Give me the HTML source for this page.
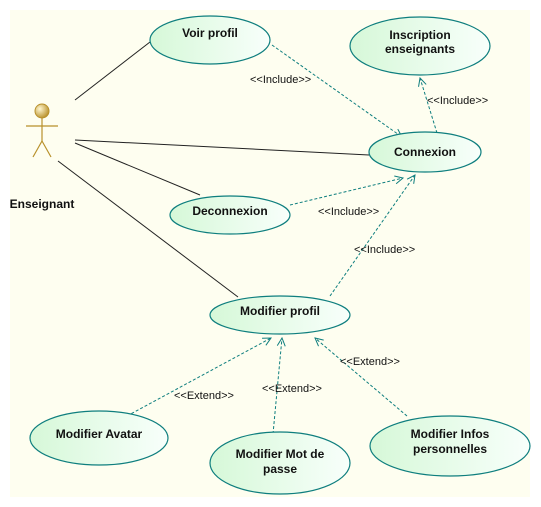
<!DOCTYPE html>
<html><head><style>
body{margin:0;background:#fff}
svg{display:block}
text{font-family:"Liberation Sans",sans-serif}
.t{font-weight:bold;font-size:12px;fill:#111}
.l{font-size:11px;fill:#111}
</style></head><body>
<svg width="541" height="507" viewBox="0 0 541 507">
<defs>
<linearGradient id="g" x1="0" x2="1" y1="0" y2="0">
<stop offset="0" stop-color="#d6f8d8"/><stop offset="1" stop-color="#f8fffb"/>
</linearGradient>
<radialGradient id="h" cx="0.35" cy="0.35" r="0.7"><stop offset="0" stop-color="#fff6cf"/><stop offset="1" stop-color="#b8902a"/></radialGradient>
<marker id="a" markerWidth="10" markerHeight="10" refX="9" refY="5" orient="auto" markerUnits="userSpaceOnUse">
<path d="M1,1 L9,5 L1,9" fill="none" stroke="#0e7e7e" stroke-width="1"/></marker>
</defs>
<rect x="10" y="10" width="520" height="487" fill="#fefef0"/>
<g stroke="#222" stroke-width="1" fill="none">
<line x1="75" y1="100" x2="150" y2="42"/>
<line x1="75" y1="140" x2="369" y2="155"/>
<line x1="75" y1="143" x2="200" y2="195"/>
<line x1="58" y1="161" x2="238" y2="297"/>
</g>
<g stroke="#0e7e7e" stroke-width="1" stroke-dasharray="3,2" fill="none" marker-end="url(#a)">
<line x1="272" y1="45" x2="402" y2="137"/>
<line x1="437" y1="133" x2="420" y2="78"/>
<line x1="290" y1="205" x2="403" y2="178"/>
<line x1="330" y1="296" x2="415" y2="175"/>
<line x1="127" y1="416" x2="271" y2="338"/>
<line x1="273" y1="434" x2="282" y2="338"/>
<line x1="407" y1="416" x2="315" y2="338"/>
</g>
<g fill="url(#g)" stroke="#0e7e7e" stroke-width="1.2">
<ellipse cx="210" cy="40" rx="60" ry="24"/>
<ellipse cx="420" cy="46" rx="70" ry="29"/>
<ellipse cx="425" cy="152" rx="56" ry="20"/>
<ellipse cx="230" cy="215" rx="60" ry="19"/>
<ellipse cx="280" cy="315" rx="70" ry="19"/>
<ellipse cx="99" cy="438" rx="69" ry="27"/>
<ellipse cx="280" cy="463" rx="70" ry="31"/>
<ellipse cx="450" cy="446" rx="80" ry="30"/>
</g>
<g stroke="#b8902a" stroke-width="1.2" fill="none">
<line x1="42" y1="118" x2="42" y2="141"/>
<line x1="26" y1="126" x2="58" y2="126"/>
<line x1="42" y1="141" x2="33" y2="157"/>
<line x1="42" y1="141" x2="51" y2="157"/>
</g>
<circle cx="42" cy="111" r="7" fill="url(#h)" stroke="#b8902a"/>
<g class="t" text-anchor="middle">
<text x="210" y="37">Voir profil</text>
<text x="420" y="39">Inscription</text>
<text x="420" y="53">enseignants</text>
<text x="425" y="156">Connexion</text>
<text x="230" y="215">Deconnexion</text>
<text x="280" y="315">Modifier profil</text>
<text x="99" y="438">Modifier Avatar</text>
<text x="280" y="458">Modifier Mot de</text>
<text x="280" y="473">passe</text>
<text x="450" y="438">Modifier Infos</text>
<text x="450" y="453">personnelles</text>
<text x="42" y="208">Enseignant</text>
</g>
<g class="l">
<text x="250" y="83">&lt;&lt;Include&gt;&gt;</text>
<text x="427" y="104">&lt;&lt;Include&gt;&gt;</text>
<text x="318" y="215">&lt;&lt;Include&gt;&gt;</text>
<text x="354" y="253">&lt;&lt;Include&gt;&gt;</text>
<text x="174" y="399">&lt;&lt;Extend&gt;&gt;</text>
<text x="262" y="392">&lt;&lt;Extend&gt;&gt;</text>
<text x="340" y="365">&lt;&lt;Extend&gt;&gt;</text>
</g>
</svg>
</body></html>
